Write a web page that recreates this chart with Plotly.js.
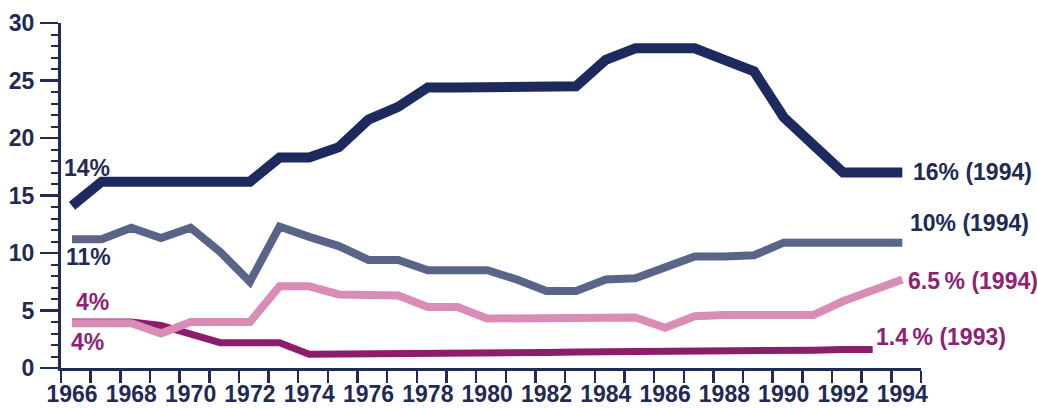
<!DOCTYPE html>
<html>
<head>
<meta charset="utf-8">
<script src="https://cdn.plot.ly/plotly-3.0.1.min.js"></script>
<style>
  html, body { margin: 0; padding: 0; background: #ffffff; }
  #chart { width: 1038px; height: 408px; }
</style>
</head>
<body>
<div id="chart"></div>
<script>
// ---- data ----
const years = [1966,1967,1968,1969,1970,1971,1972,1973,1974,1975,1976,1977,1978,1979,1980,
               1981,1982,1983,1984,1985,1986,1987,1988,1989,1990,1991,1992,1993,1994];

const seriesNavy = [14.1,16.2,16.2,16.2,16.2,16.2,16.2,18.3,18.3,19.2,21.6,22.7,24.4,24.4,24.4,
                    24.4,24.5,24.5,26.8,27.8,27.8,27.8,26.8,25.8,21.8,19.5,17.0,17.0,17.0];

const seriesSlate = [11.2,11.2,12.2,11.3,12.2,10.1,7.5,12.3,11.4,10.6,9.4,9.4,8.5,8.5,8.5,
                     7.7,6.7,6.7,7.7,7.8,8.7,9.7,9.7,9.8,10.9,10.9,10.9,10.9,10.9];

const seriesPink = [3.9,3.9,3.9,3.0,4.0,4.0,4.0,7.1,7.1,6.4,6.3,6.3,5.3,5.3,4.3,
                    4.3,4.3,4.3,4.3,4.4,3.5,4.5,4.6,4.6,4.6,4.6,5.8,6.8,7.7];

const seriesMagenta = [4.0,4.0,4.0,3.7,2.9,2.2,2.2,2.2,1.2,1.2,1.25,1.25,1.3,1.3,1.3,
                       1.35,1.35,1.4,1.4,1.45,1.45,1.5,1.5,1.5,1.55,1.55,1.6,1.6,null];

const yearLabels = [1966,1968,1970,1972,1974,1976,1978,1980,1982,1984,1986,1988,1990,1992,1994];
const yTicks = [0,5,10,15,20,25,30];

const startLabels = ['14%', '11%', '4%', '4%'];
const endLabels = ['16% (1994)', '10% (1994)', '6.5\u202F% (1994)', '1.4\u202F% (1993)'];

// ---- styles ----
const NAVY = '#1e2a5e';
const SLATE = '#5a6489';
const PINK = '#d98cb6';
const MAGENTA = '#8c1c6c';
const TEXT_NAVY = '#1f2a55';
const TEXT_MAG = '#8e2272';
const FONT = 'Liberation Sans, Arial, sans-serif';
const FS = 23;

const traces = [
  {x: years, y: seriesMagenta, mode: 'lines', line: {color: MAGENTA, width: 7}, hoverinfo: 'skip'},
  {x: years, y: seriesPink, mode: 'lines', line: {color: PINK, width: 8}, hoverinfo: 'skip'},
  {x: years, y: seriesSlate, mode: 'lines', line: {color: SLATE, width: 8}, hoverinfo: 'skip'},
  {x: years, y: seriesNavy, mode: 'lines', line: {color: NAVY, width: 10}, hoverinfo: 'skip'},
  // invisible trace bound to the label axis so it renders
  {x: [years[0]], y: [null], xaxis: 'x2', mode: 'lines', showlegend: false, hoverinfo: 'skip'}
];

const labelFont = (c) => ({family: FONT, size: FS, color: c, weight: 'bold'});

const annotations = [
  {x: 1965.70, y: 17.4, text: startLabels[0], font: labelFont(TEXT_NAVY)},
  {x: 1965.76, y: 9.65, text: startLabels[1], font: labelFont(TEXT_NAVY)},
  {x: 1966.10, y: 5.74, text: startLabels[2], font: labelFont(TEXT_MAG)},
  {x: 1965.93, y: 2.26, text: startLabels[3], font: labelFont(TEXT_MAG)},
  {x: 1994.33, y: 17.04, text: endLabels[0], font: labelFont(TEXT_NAVY)},
  {x: 1994.23, y: 12.61, text: endLabels[1], font: labelFont(TEXT_NAVY)},
  {x: 1994.16, y: 7.57, text: endLabels[2], font: labelFont(TEXT_MAG)},
  {x: 1993.08, y: 2.70, text: endLabels[3], font: labelFont(TEXT_MAG)}
].map(a => Object.assign({xref: 'x', yref: 'y', xanchor: 'left', yanchor: 'middle',
                          showarrow: false, borderpad: 0}, a));

const XR = [1965.63, 1994.63];

const layout = {
  width: 1038, height: 408,
  margin: {l: 61, r: 117, t: 23, b: 40, pad: 0},
  paper_bgcolor: '#ffffff', plot_bgcolor: '#ffffff',
  showlegend: false,
  xaxis: {
    range: XR, showgrid: false, zeroline: false,
    showline: true, linecolor: TEXT_NAVY, linewidth: 3,
    tickmode: 'linear', tick0: 1965.63, dtick: 1,
    ticks: 'outside', ticklen: 12, tickwidth: 2.5, tickcolor: TEXT_NAVY,
    showticklabels: false
  },
  xaxis2: {
    overlaying: 'x', anchor: 'y', side: 'bottom',
    range: XR, showgrid: false, zeroline: false, showline: false,
    tickmode: 'array', tickvals: yearLabels, ticktext: yearLabels.map(String),
    ticks: '',
    ticklabelstandoff: 10,
    tickfont: {family: FONT, size: FS, color: TEXT_NAVY, weight: 'bold'}
  },
  yaxis: {
    range: [0, 30], showgrid: false, zeroline: false,
    showline: true, linecolor: TEXT_NAVY, linewidth: 3,
    tickmode: 'array', tickvals: yTicks, ticktext: yTicks.map(String),
    ticks: 'outside', ticklen: 18, tickwidth: 2.5, tickcolor: TEXT_NAVY,
    ticklabelstandoff: 1,
    tickfont: {family: FONT, size: FS, color: TEXT_NAVY, weight: 'bold'},
    minor: {dtick: 1, tick0: 0, ticks: 'outside', ticklen: 7, tickwidth: 2, tickcolor: TEXT_NAVY}
  },
  annotations: annotations
};

Plotly.newPlot('chart', traces, layout, {staticPlot: true, displayModeBar: false});
</script>
</body>
</html>
